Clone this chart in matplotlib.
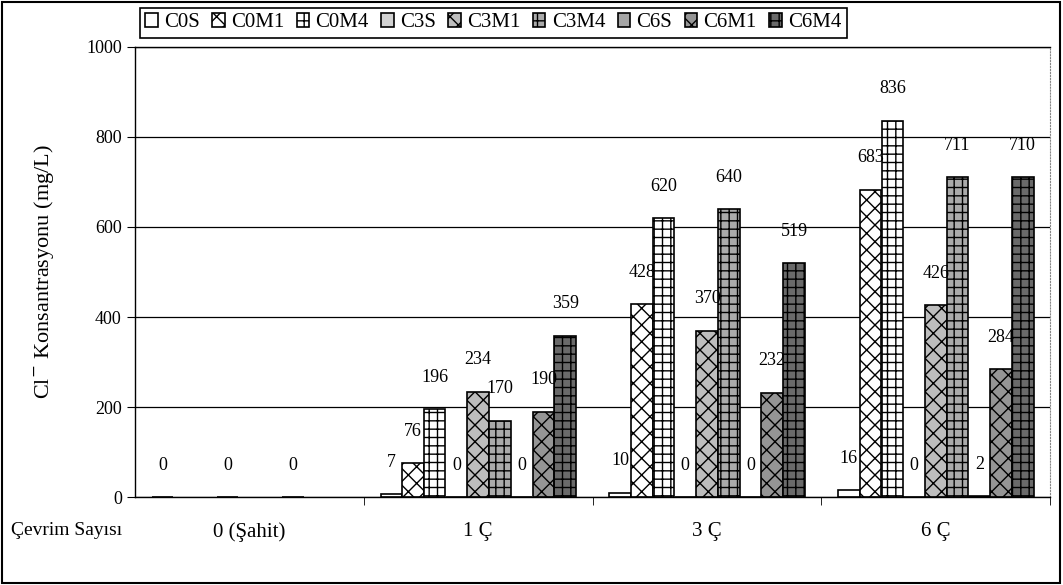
import numpy as np
import matplotlib.pyplot as plt
from matplotlib.patches import Rectangle

# veri
categories = ['0 (Şahit)', '1 Ç', '3 Ç', '6 Ç']
series = ['C0S', 'C0M1', 'C0M4', 'C3S', 'C3M1', 'C3M4', 'C6S', 'C6M1', 'C6M4']
nan = np.nan
c0s = [0, 7, 10, 16]
c0m1 = [nan, 76, 428, 683]
c0m4 = [nan, 196, 620, 836]
c3s = [0, 0, 0, 0]
c3m1 = [nan, 234, 370, 426]
c3m4 = [nan, 170, 640, 711]
c6s = [0, 0, 0, 2]
c6m1 = [nan, 190, 232, 284]
c6m4 = [nan, 359, 519, 710]
values = [c0s, c0m1, c0m4, c3s, c3m1, c3m4, c6s, c6m1, c6m4]
yticks = [0, 200, 400, 600, 800, 1000]

faces = ['white', 'white', 'white', '#d2d2d2', '#bdbdbd', '#aaaaaa', '#a6a6a6', '#959595', '#6a6a6a']
hatches = ['', 'xx', '++', '', 'xx', '++', '', 'xx', '++']

plt.rcParams['font.family'] = 'Liberation Serif'
plt.rcParams['hatch.linewidth'] = 1.0

fig = plt.figure(figsize=(10.63, 5.85), dpi=100)
ax = fig.add_axes([0.127, 0.150, 0.861, 0.770])

x = np.arange(len(categories))
w = 0.094
for i, (name, vals) in enumerate(zip(series, values)):
    pos = x + (i - 4) * 0.095
    ax.bar(pos, vals, w, color=faces[i], edgecolor='black', linewidth=1.2,
           hatch=hatches[i], label=name)
    for px, v in zip(pos, vals):
        if np.isnan(v):
            continue
        ax.annotate(f'{v:.0f}', (px, v), xytext=(0, 23), textcoords='offset points',
                    ha='center', va='center', fontsize=13)

ax.set_xlim(-0.5, 3.5)
ax.set_ylim(0, 1000)
ax.set_yticks(yticks)
ax.tick_params(axis='y', labelsize=13, length=6, direction='out')
ax.set_xticks(x)
ax.set_xticklabels(categories, fontsize=15)
ax.tick_params(axis='x', length=0, pad=18)
ax.set_xticks([0.5, 1.5, 2.5, 3.5], minor=True)
ax.tick_params(axis='x', which='minor', length=6, direction='out')
ax.grid(axis='y', color='black', linewidth=0.9)
ax.set_axisbelow(True)
for s in ['left', 'bottom', 'top']:
    ax.spines[s].set_linewidth(1.0)
ax.spines['right'].set_color('#888888')
ax.spines['right'].set_linestyle(':')

ax.set_ylabel('Cl$^{-}$ Konsantrasyonu (mg/L)', fontsize=16, labelpad=22)
fig.text(0.01, 0.094, 'Çevrim Sayısı', fontsize=14, va='center')

leg = ax.legend(ncol=9, loc='upper center', bbox_to_anchor=(0.464, 0.986),
                bbox_transform=fig.transFigure, fontsize=15, frameon=True,
                fancybox=False, edgecolor='black', framealpha=1,
                handlelength=0.6, handleheight=0.6, handletextpad=0.3,
                columnspacing=0.6, borderpad=0.25, borderaxespad=0)
leg.get_frame().set_linewidth(1.2)

fig.patches.append(Rectangle((0.002, 0.003), 0.995, 0.994, transform=fig.transFigure,
                             fill=False, edgecolor='black', linewidth=1.5))

fig.savefig('out.png', dpi=100)
